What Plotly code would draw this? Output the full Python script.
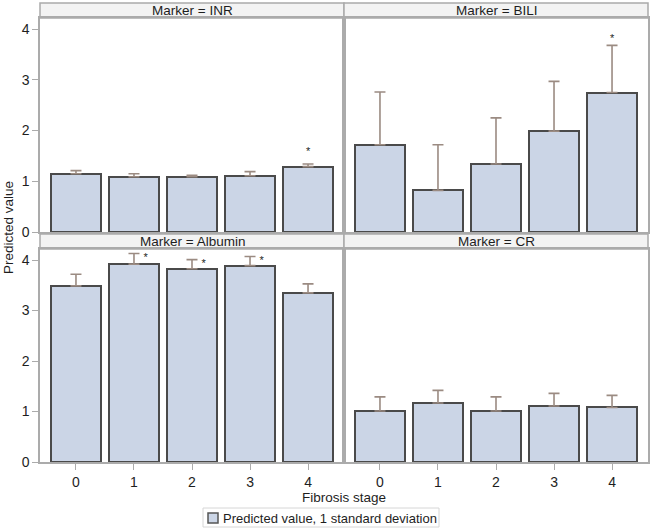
import plotly.graph_objects as go

stages = [0, 1, 2, 3, 4]
tick_labels = ["0", "1", "2", "3", "4"]

markers = ["INR", "BILI", "Albumin", "CR"]
inr_value = [1.15, 1.09, 1.09, 1.11, 1.29]
inr_sd = [0.06, 0.06, 0.03, 0.08, 0.05]
bili_value = [1.72, 0.82, 1.34, 1.99, 2.75]
bili_sd = [1.04, 0.90, 0.91, 0.98, 0.93]
alb_value = [3.49, 3.92, 3.83, 3.89, 3.35]
alb_sd = [0.23, 0.21, 0.18, 0.18, 0.18]
cr_value = [1.01, 1.17, 1.01, 1.11, 1.08]
cr_sd = [0.28, 0.25, 0.28, 0.25, 0.24]

# significance stars
inr_star_x = [4]
inr_star_y = [1.57]
bili_star_x = [4]
bili_star_y = [3.80]
alb_star_x = [1.2, 2.2, 3.2]
alb_star_y = [4.03, 3.92, 3.98]
cr_star_x = []
cr_star_y = []

legend_label = "Predicted value, 1 standard deviation"

values = [inr_value, bili_value, alb_value, cr_value]
sds = [inr_sd, bili_sd, alb_sd, cr_sd]
stars_x = [inr_star_x, bili_star_x, alb_star_x, cr_star_x]
stars_y = [inr_star_y, bili_star_y, alb_star_y, cr_star_y]

FONT = "Liberation Sans, Arial, sans-serif"
BAR_FILL = "#cbd5e6"
BAR_LINE = "#4a4a4a"
ERR_COLOR = "#9b8b82"
FRAME = "#ababab"
TXT = "#1e1e1e"

fig = go.Figure()

axes = [("x", "y"), ("x2", "y2"), ("x3", "y3"), ("x4", "y4")]
for i, (xa, ya) in enumerate(axes):
    fig.add_trace(go.Bar(
        x=stages, y=values[i], xaxis=xa, yaxis=ya,
        width=0.86,
        marker=dict(color=BAR_FILL, line=dict(color=BAR_LINE, width=2)),
        error_y=dict(type="data", array=sds[i], arrayminus=[0] * 5, symmetric=False,
                     color=ERR_COLOR, thickness=1.6, width=5.5),
        name=legend_label,
        showlegend=False,
    ))
    if stars_x[i]:
        fig.add_trace(go.Scatter(
            x=stars_x[i], y=stars_y[i], xaxis=xa, yaxis=ya,
            mode="text", text=["*"] * len(stars_x[i]),
            textfont=dict(size=11, color=TXT, family=FONT),
            showlegend=False, hoverinfo="skip",
        ))

# layout geometry (pixels -> paper)
L, R, T, B = 40, 6, 3, 66
W, H = 654, 528
ph = H - T - B
pw = W - L - R


def py(px):
    return (H - B - px) / ph


def pxx(px):
    return (px - L) / pw


top_dom = [py(232), py(18)]
bot_dom = [0, py(249)]
left_dom = [0, 0.5]
right_dom = [0.5, 1]

yrange = [0, 4.22]
xrange_ = [-0.62, 4.62]

tickfont = dict(size=14, color=TXT, family=FONT)
common_x = dict(range=xrange_, showgrid=False, zeroline=False, showline=True, mirror=True,
                linecolor=FRAME, linewidth=1.5, tickvals=stages, ticktext=tick_labels,
                tickfont=tickfont, fixedrange=True)
common_y = dict(range=yrange, showgrid=False, zeroline=False, showline=True, mirror=True,
                linecolor=FRAME, linewidth=1.5, tickvals=[0, 1, 2, 3, 4],
                tickfont=tickfont, fixedrange=True)

fig.update_layout(
    width=W, height=H,
    margin=dict(l=L, r=R, t=T, b=B),
    paper_bgcolor="white", plot_bgcolor="white",
    font=dict(family=FONT, size=13, color=TXT),
    bargap=0,
    showlegend=False,
    xaxis=dict(common_x, domain=left_dom, anchor="y", showticklabels=False, ticks=""),
    yaxis=dict(common_y, domain=top_dom, anchor="x", ticks="outside", ticklen=6, tickcolor=FRAME),
    xaxis2=dict(common_x, domain=right_dom, anchor="y2", showticklabels=False, ticks=""),
    yaxis2=dict(common_y, domain=top_dom, anchor="x2", showticklabels=False, ticks=""),
    xaxis3=dict(common_x, domain=left_dom, anchor="y3", ticks="outside", ticklen=6, tickcolor=FRAME),
    yaxis3=dict(common_y, domain=bot_dom, anchor="x3", ticks="outside", ticklen=6, tickcolor=FRAME),
    xaxis4=dict(common_x, domain=right_dom, anchor="y4", ticks="outside", ticklen=6, tickcolor=FRAME),
    yaxis4=dict(common_y, domain=bot_dom, anchor="x4", showticklabels=False, ticks=""),
)

# header strips
headers = [
    (left_dom, [py(18), py(3)], "Marker = " + markers[0]),
    (right_dom, [py(18), py(3)], "Marker = " + markers[1]),
    (left_dom, [py(249), py(234)], "Marker = " + markers[2]),
    (right_dom, [py(249), py(234)], "Marker = " + markers[3]),
]
for xd, yd, label in headers:
    fig.add_shape(type="rect", xref="paper", yref="paper",
                  x0=xd[0], x1=xd[1], y0=yd[0], y1=yd[1],
                  fillcolor="#f3f3f3", line=dict(color=FRAME, width=1.5), layer="below")
    fig.add_annotation(xref="paper", yref="paper", x=(xd[0] + xd[1]) / 2, y=(yd[0] + yd[1]) / 2,
                       text=label, showarrow=False, font=dict(size=13.5, family=FONT, color=TXT),
                       xanchor="center", yanchor="middle")

fig.add_annotation(xref="paper", yref="paper", x=0.5, y=py(497), text="Fibrosis stage",
                   showarrow=False, font=dict(size=13.5, family=FONT, color=TXT),
                   xanchor="center", yanchor="middle")
fig.add_annotation(xref="paper", yref="paper", x=pxx(8), y=py(228),
                   text="Predicted value", textangle=-90, showarrow=False,
                   font=dict(size=13.5, family=FONT, color=TXT),
                   xanchor="center", yanchor="middle")

# legend (drawn manually to match the compact boxed look)
fig.add_shape(type="rect", xref="paper", yref="paper",
              x0=pxx(203), x1=pxx(439), y0=py(527), y1=py(508),
              fillcolor="white", line=dict(color="#d6d6d6", width=1))
fig.add_shape(type="rect", xref="paper", yref="paper",
              x0=pxx(208), x1=pxx(218), y0=py(523), y1=py(513),
              fillcolor=BAR_FILL, line=dict(color="#555555", width=1.5))
fig.add_annotation(xref="paper", yref="paper", x=pxx(221), y=py(518), text=legend_label,
                   showarrow=False, font=dict(size=13, family=FONT, color=TXT),
                   xanchor="left", yanchor="middle")

fig.write_html("out.html", config={"displayModeBar": False},
               post_script="document.body.style.margin='0';document.body.style.overflow='hidden';")
